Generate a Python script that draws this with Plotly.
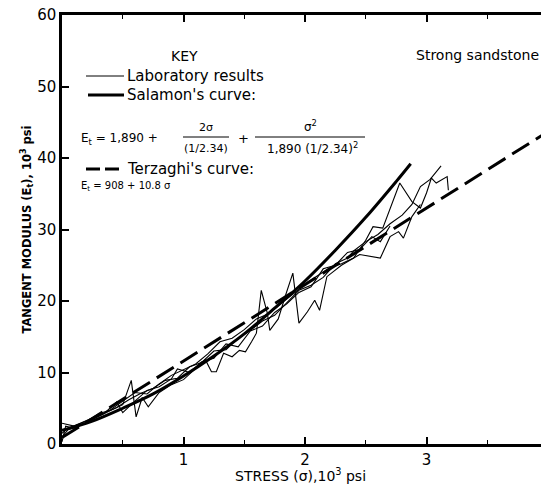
import plotly.graph_objects as go

# ---- data ----
x_ticks = [0, 1, 2, 3, 4]
x_tick_text = ["", "1", "2", "3", "4"]
y_ticks = [0, 10, 20, 30, 40, 50, 60]

salamon_x = [0, 0.25, 0.5, 0.75, 1.0, 1.25, 1.5, 1.75, 2.0, 2.25, 2.5, 2.75, 2.87]
salamon_y = [1.9, 3.2, 5.0, 7.0, 9.5, 12.3, 15.4, 19.0, 22.8, 27.1, 31.7, 36.7, 39.2]

terzaghi_x = [0, 4]
terzaghi_y = [0.9, 43.7]

lab1_x = [0, 0.05, 0.15, 0.25, 0.35, 0.45, 0.55, 0.65, 0.75, 0.85, 0.95, 1.05, 1.15, 1.25, 1.35,
          1.45, 1.55, 1.65, 1.75, 1.85, 1.95, 2.05, 2.15, 2.25, 2.35, 2.4, 2.5, 2.6, 2.7, 2.8,
          2.88, 2.95, 3.03, 3.12]
lab1_y = [1.5, 2.2, 2.9, 3.6, 4.4, 5.1, 6.2, 7.1, 7.8, 8.9, 9.2, 10.8, 11.4, 13.0, 13.2,
          14.8, 15.9, 17.2, 18.0, 19.7, 21.5, 22.2, 23.3, 25.2, 26.0, 27.0, 28.3, 29.3, 30.8, 32.0,
          33.5, 36.0, 37.0, 38.9]

lab2_x = [0, 0.1, 0.2, 0.3, 0.4, 0.5, 0.6, 0.7, 0.8, 0.9, 1.0, 1.1, 1.2, 1.3, 1.4, 1.5, 1.6,
          1.7, 1.8, 1.9, 2.0, 2.1, 2.2, 2.3, 2.4, 2.5, 2.56, 2.64, 2.78, 2.88, 2.95, 3.0, 3.04,
          3.08, 3.17, 3.18]
lab2_y = [2.9, 2.5, 3.2, 4.2, 4.8, 6.0, 7.2, 7.0, 8.4, 9.6, 10.4, 11.2, 12.6, 14.3, 14.8, 16.0, 17.5,
          18.2, 19.6, 21.0, 22.3, 23.5, 24.6, 25.2, 26.0, 28.5, 30.4, 30.2, 36.5, 33.9, 33.0, 35.1, 37.2,
          36.5, 37.4, 35.5]

lab3_x = [0, 0.03, 0.1, 0.2, 0.3, 0.4, 0.5, 0.57, 0.61, 0.66, 0.71, 0.8, 0.9, 1.0, 1.1, 1.18,
          1.23, 1.27, 1.33, 1.4, 1.46, 1.51, 1.56, 1.6, 1.64, 1.69, 1.71, 1.78, 1.84, 1.9, 1.95,
          2.02, 2.08, 2.12, 2.18, 2.3, 2.45, 2.62, 2.7, 2.77, 2.81, 2.88, 2.95]
lab3_y = [0.3, 2.5, 2.2, 3.0, 3.8, 4.6, 5.5, 8.9, 3.8, 6.5, 5.2, 7.2, 8.3, 9.0, 10.5, 11.8,
          10.1, 10.1, 12.7, 12.2, 13.1, 12.9, 14.3, 15.5, 21.5, 18.3, 15.9, 17.5, 20.8, 23.9, 16.9,
          18.5, 20.1, 18.7, 23.4, 25.0, 26.5, 26.0, 29.0, 29.7, 28.8, 31.8, 33.5]

lab4_x = [0, 0.05, 0.15, 0.25, 0.35, 0.45, 0.5, 0.6, 0.7, 0.8, 0.9, 0.95, 1.05, 1.15, 1.25, 1.35,
          1.45, 1.55, 1.65, 1.75, 1.85, 1.95, 2.05, 2.15, 2.25, 2.35, 2.45, 2.55, 2.62, 2.7]
lab4_y = [1.0, 2.0, 2.6, 3.5, 4.3, 5.9, 4.4, 6.0, 7.5, 8.0, 9.1, 10.5, 10.0, 11.5, 12.0, 14.0,
          13.6, 15.8, 16.5, 18.4, 19.6, 21.2, 22.0, 24.5, 25.0, 26.8, 27.2, 29.0, 28.3, 30.5]

# ---- layout geometry (page pixels; the page body adds an 8px offset) ----
OFF = 8
PAGE_W, PAGE_H = 549, 492
PL, PR, PT, PB = 62, 548, 15, 444          # plot edges in page pixels
W, H = PAGE_W - OFF, PAGE_H - OFF
L, T = PL - OFF, PT - OFF
R = W - (PR - OFF)
B = H - (PB - OFF)
XMAX, YMAX = 4, 60
sx = (PR - PL) / XMAX
sy = (PB - PT) / YMAX


def px2x(px):
    return (px - PL) / sx


def py2y(py):
    return (PB - py) / sy


FONT = "DejaVu Sans"
fig = go.Figure()

for lx, ly in [(lab1_x, lab1_y), (lab2_x, lab2_y), (lab3_x, lab3_y), (lab4_x, lab4_y)]:
    fig.add_trace(go.Scatter(x=lx, y=ly, mode="lines",
                             line=dict(color="black", width=1.1), showlegend=False))

fig.add_trace(go.Scatter(x=salamon_x, y=salamon_y, mode="lines", line_shape="spline",
                         line=dict(color="black", width=3), showlegend=False))
fig.add_trace(go.Scatter(x=terzaghi_x, y=terzaghi_y, mode="lines",
                         line=dict(color="black", width=3, dash="20px,8px"), showlegend=False))

shapes = [
    dict(type="line", xref="x", yref="y", x0=px2x(86), x1=px2x(124), y0=py2y(76), y1=py2y(76),
         line=dict(color="black", width=1)),
    dict(type="line", xref="x", yref="y", x0=px2x(88), x1=px2x(124), y0=py2y(95), y1=py2y(95),
         line=dict(color="black", width=3)),
    dict(type="line", xref="x", yref="y", x0=px2x(86), x1=px2x(124), y0=py2y(169), y1=py2y(169),
         line=dict(color="black", width=3, dash="14px,5px")),
    dict(type="line", xref="x", yref="y", x0=px2x(183), x1=px2x(229), y0=py2y(137), y1=py2y(137),
         line=dict(color="black", width=1)),
    dict(type="line", xref="x", yref="y", x0=px2x(255), x1=px2x(365), y0=py2y(137), y1=py2y(137),
         line=dict(color="black", width=1)),
]


def ann(text, px, py, size, xanchor="center"):
    return dict(text=text, x=px2x(px), y=py2y(py),
                xref="x", yref="y", showarrow=False, xanchor=xanchor, yanchor="middle",
                font=dict(family=FONT, size=size, color="black"))


annotations = [
    ann("KEY", 184, 56, 14),
    ann("Laboratory results", 125, 76, 15, "left"),
    ann("Salamon's curve:", 125, 95, 15, "left"),
    ann("E<sub>t</sub> = 1,890 +", 79, 139, 12, "left"),
    ann("2σ", 206, 127, 11),
    ann("(1/2.34)", 206, 148, 11),
    ann("+", 243, 138, 13),
    ann("σ<sup>2</sup>", 310, 126, 12),
    ann("1,890 (1/2.34)<sup>2</sup>", 312, 148, 12),
    ann("Terzaghi's curve:", 125, 169, 15, "left"),
    ann("E<sub>t</sub> = 908 + 10.8 σ", 79, 186, 10, "left"),
    ann("Strong sandstone", 477, 55, 14),
]
# x-axis title, placed (in paper units) below the tick labels
annotations.append(dict(text="STRESS (σ),10<sup>3</sup> psi",
                        x=(300 - PL) / (PR - PL), y=(PB - 475) / (PB - PT),
                        xref="paper", yref="paper", showarrow=False,
                        xanchor="center", yanchor="middle",
                        font=dict(family=FONT, size=14, color="black")))

fig.update_layout(
    width=W, height=H,
    margin=dict(l=L, r=R, t=T, b=B, pad=0, autoexpand=False),
    paper_bgcolor="white", plot_bgcolor="white",
    font=dict(family=FONT, color="black"),
    shapes=shapes, annotations=annotations,
    showlegend=False,
)
fig.update_xaxes(range=[0, XMAX], tickvals=x_ticks, ticktext=x_tick_text,
                 ticks="inside", ticklen=7, tickwidth=1.5, tickcolor="black",
                 minor=dict(tickvals=[0.5, 1.5, 2.5, 3.5], ticks="inside", ticklen=4,
                            tickcolor="black", tickwidth=1),
                 showline=True, linewidth=2.5, linecolor="black", mirror="ticks",
                 showgrid=False, zeroline=False, automargin=False,
                 ticklabeloverflow="allow",
                 tickfont=dict(size=15, family=FONT))
fig.update_yaxes(range=[0, YMAX], tickvals=y_ticks, ticktext=[str(v) for v in y_ticks],
                 ticks="inside", ticklen=7, tickwidth=1.5, tickcolor="black",
                 showline=True, linewidth=2.5, linecolor="black", mirror="ticks",
                 showgrid=False, zeroline=False, automargin=False,
                 ticklabeloverflow="allow",
                 tickfont=dict(size=15, family=FONT),
                 title=dict(text="<b>TANGENT MODULUS (E<sub>t</sub>), 10<sup>3</sup> psi</b>",
                            font=dict(size=11.5, family=FONT), standoff=4))

fig.update_traces(cliponaxis=False)
fig.write_html("out.html")
